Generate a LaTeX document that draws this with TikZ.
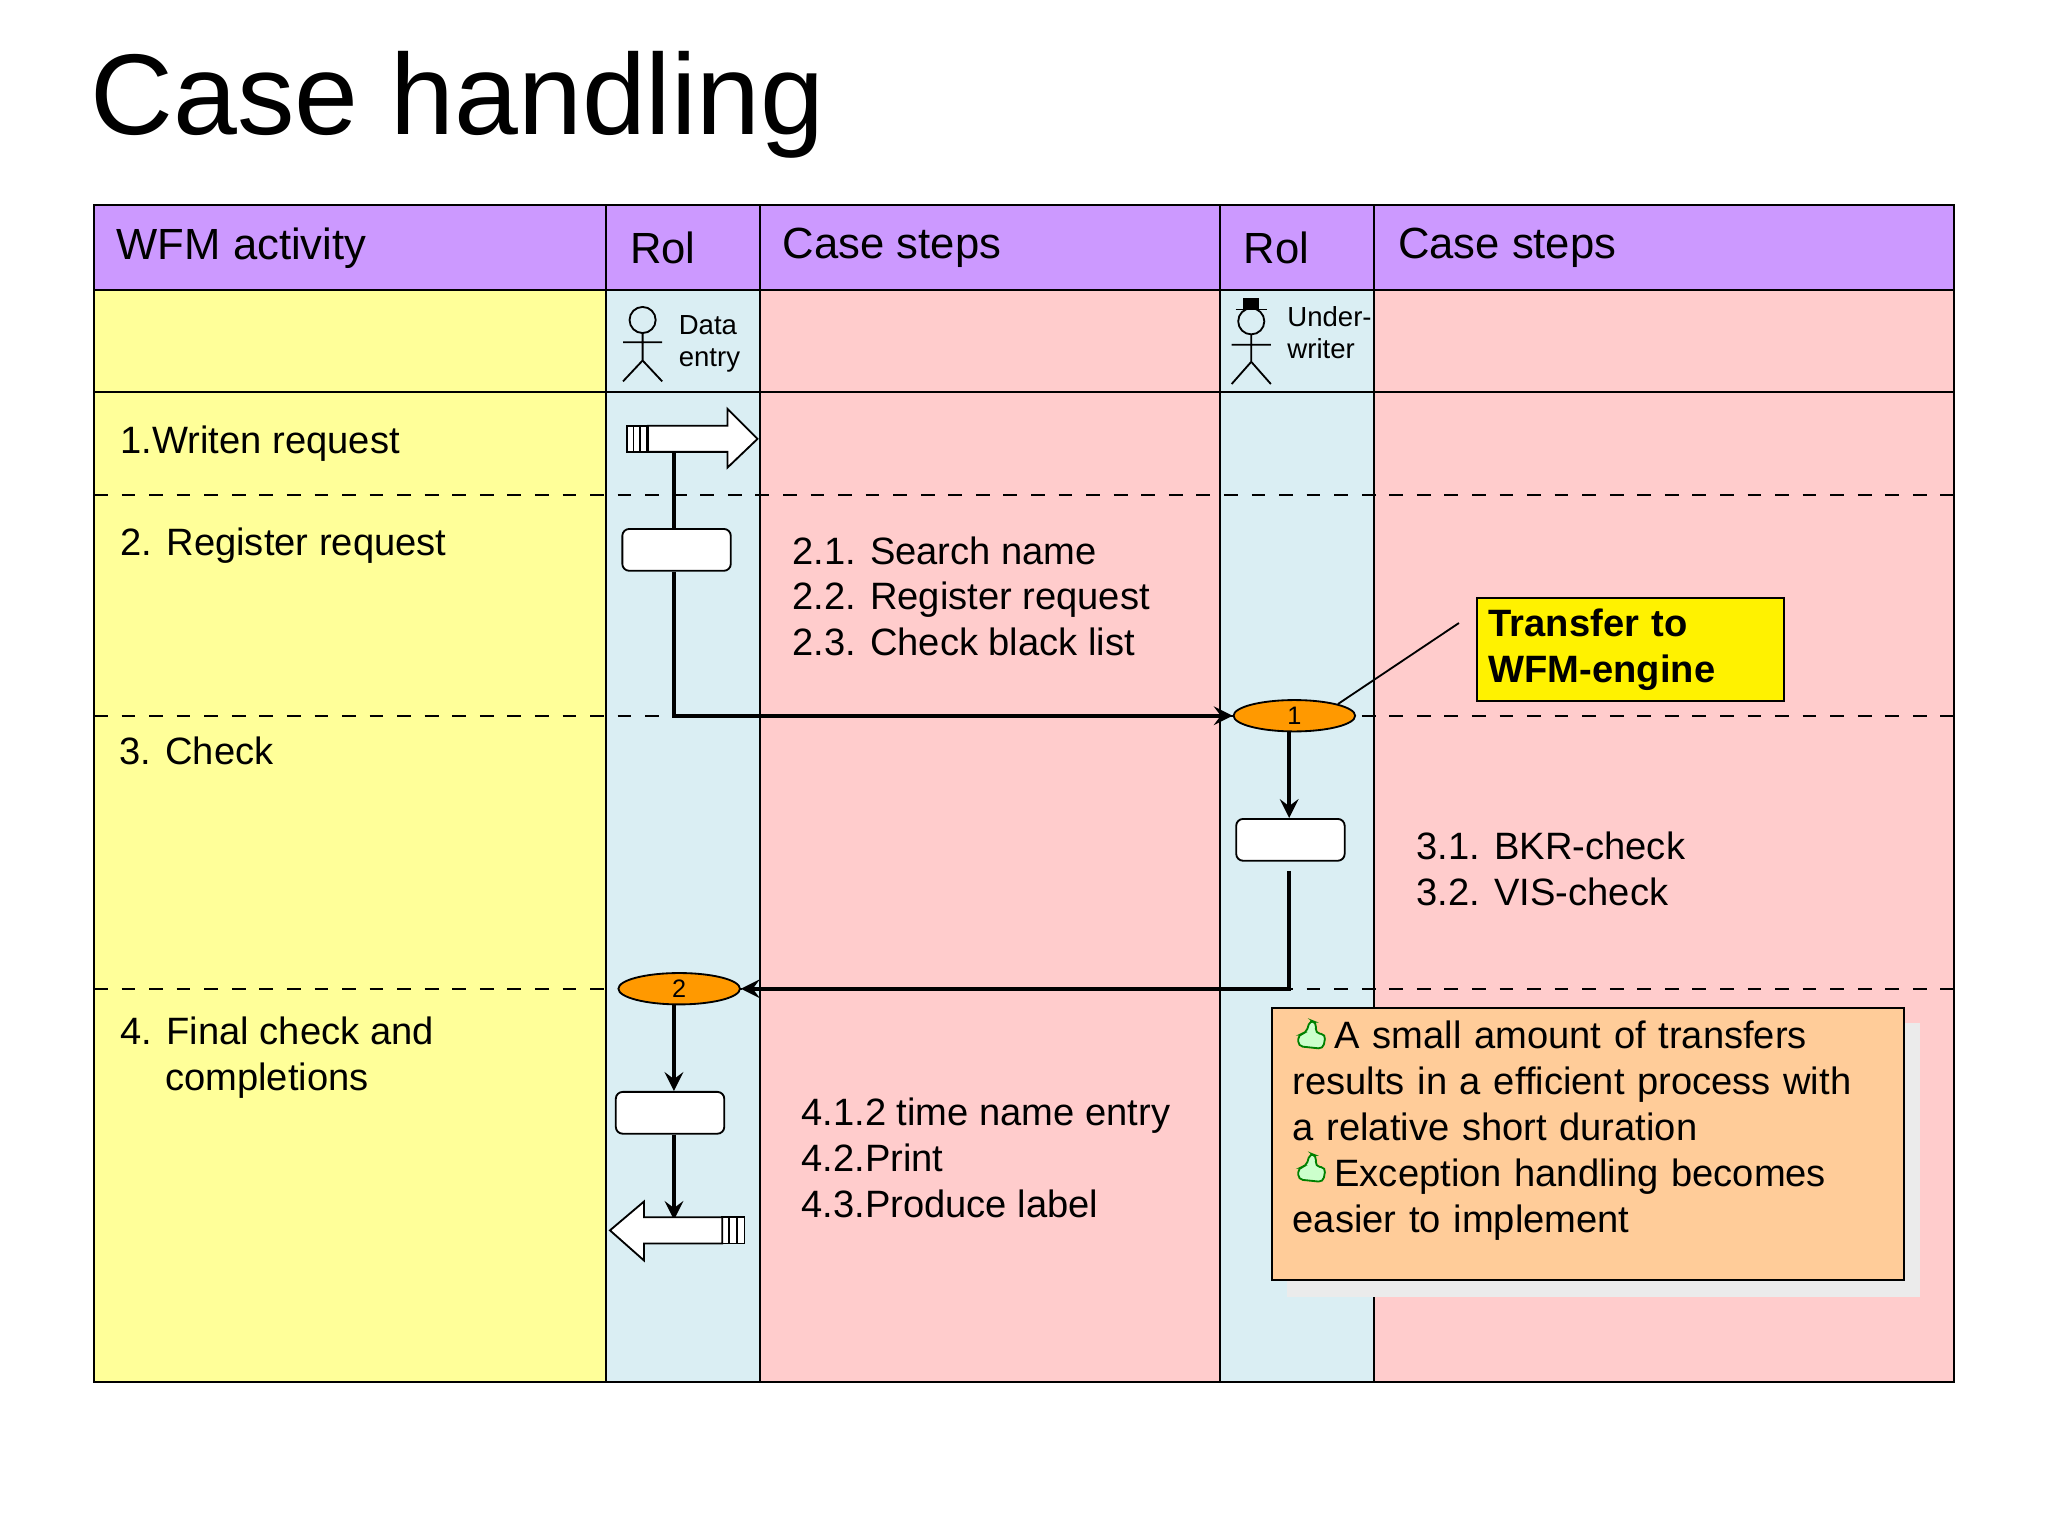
\documentclass[tikz,border=0pt]{standalone}
\usepackage{fontspec}
\setmainfont{Liberation Sans}
\usetikzlibrary{shapes,shapes.geometric,arrows,calc,positioning}
\definecolor{hdr}{HTML}{CC99FF}
\definecolor{yel}{HTML}{FFFF99}
\definecolor{rol}{HTML}{DAEEF3}
\definecolor{stp}{HTML}{FFCCCC}
\definecolor{trg}{HTML}{FF9900}
\definecolor{note}{HTML}{FFCC99}
\tikzset{
hdrtext/.style={anchor=west,font=\fontsize{9.5}{11}\selectfont},
rowtext/.style={anchor=west,font=\fontsize{8.3}{10}\selectfont,align=left},
steptext/.style={anchor=north west,font=\fontsize{8.3}{10}\selectfont,align=left,inner sep=0pt},
task/.style={draw,rounded corners=1.5pt,fill=white,minimum width=0.83cm,minimum height=0.32cm,inner sep=0pt},
trigger/.style={draw,ellipse,fill=trg,minimum width=0.93cm,minimum height=0.24cm,inner sep=0pt,font=\fontsize{5.5}{6}\selectfont},
flow/.style={thick,->,>=stealth},
actor/.style={anchor=west,font=\fontsize{6}{7}\selectfont,align=left,inner sep=0pt}
}
\begin{document}
\begin{tikzpicture}[x=0.01cm,y=-0.01cm]
\useasboundingbox (0,0) rectangle (1568,1176);
\node[anchor=west,font=\fontsize{25}{28}\selectfont] (title) at (57,80) {Case handling};

% columns
\fill[yel] (72,222) rectangle (464,1058);
\fill[rol] (464,222) rectangle (582,1058);
\fill[stp] (582,222) rectangle (934,1058);
\fill[rol] (934,222) rectangle (1052,1058);
\fill[stp] (1052,222) rectangle (1496,1058);
\fill[hdr] (72,157) rectangle (1496,222);
\draw (72,157) rectangle (1496,1058);
\foreach \x in {464,582,934,1052} \draw (\x,157) -- (\x,1058);
\draw (72,222) -- (1496,222);
\draw (72,300) -- (1496,300);
\foreach \y in {379,548,757} \draw[dashed] (72,\y) -- (1496,\y);

\node[hdrtext] (h1) at (77,190) {WFM activity};
\node[hdrtext] (h2) at (470,190) {Rol};
\node[hdrtext] (h3) at (587,190) {Case steps};
\node[hdrtext] (h4) at (940,190) {Rol};
\node[hdrtext] (h5) at (1058,190) {Case steps};

\node[rowtext] (r1) at (80,340) {1.Writen request};
\node[rowtext] (r2) at (80,418) {2. Register request};
\node[rowtext] (r3) at (79,575) {3. Check};
\node[rowtext,anchor=north west] (r4) at (80,766) {4. Final check and\\\hspace{0.34cm}completions};

% actors
\draw (492,245) circle (10);
\draw (492,255) -- (492,276) (477,262) -- (507,262) (477,292) -- (492,276) -- (507,292);
\node[actor] (a1) at (519,263) {Data\\entry};
\draw (958,246) circle (10);
\fill (952,228) rectangle (964,237);
\draw (946,237) -- (970,237);
\draw (958,256) -- (958,277) (943,264) -- (973,264) (943,294) -- (958,277) -- (973,294);
\node[actor] (a2) at (985,255) {Under-\\writer};

% start arrow
\draw[fill=white] (480,326) rectangle (495,346);
\draw (485,326) -- (485,346) (490,326) -- (490,346);
\draw[fill=white] (496,326) -- (557,326) -- (557,313) -- (580,336) -- (557,358) -- (557,346) -- (496,346) -- cycle;
\coordinate (s1) at (516,346);

\node[task] (t1) at (518,421) {};
\node[trigger] (e1) at (991,548) {1};
\node[task] (t2) at (988,643) {};
\node[trigger] (e2) at (520,757) {2};
\node[task] (t3) at (513,852) {};
\coordinate (end) at (516,934);

\draw[thick] (s1) -- (t1.north -| s1);
\draw[flow] (t1.south -| s1) |- (e1.west);
\draw[flow] (e1.south -| 987,0) -- (t2.north -| 987,0);
\draw[flow] ($(t2.south)+(-1,7)$) |- (e2.east);
\draw[flow] (e2.south -| 516,0) -- (t3.north -| 516,0);
\draw[flow] (t3.south -| 516,0) -- (end);

% end arrow
\draw[fill=white] (553,932) rectangle (570,952);
\draw (558,932) -- (558,952) (564,932) -- (564,952);
\draw[fill=white] (553,932) -- (493,932) -- (493,920) -- (467,942) -- (493,965) -- (493,952) -- (553,952) -- cycle;

\node[steptext] (c2) at (606,410) {2.1. Search name\\2.2. Register request\\2.3. Check black list};
\node[steptext] (c3) at (1084,636) {3.1. BKR-check\\3.2. VIS-check};
\node[steptext] (c4) at (613,840) {4.1.2 time name entry\\4.2.Print\\4.3.Produce label};

% callout
\node[draw,fill=yellow,minimum width=2.35cm,minimum height=0.79cm,anchor=north west,inner sep=0pt,
  font=\bfseries\fontsize{8.3}{10}\selectfont,align=left,text width=2.17cm] (tr) at (1130,457) {Transfer to\\WFM-engine};
\draw (1117,477) -- (e1.north east);

% note
\fill[black!8] (985,783) rectangle (1470,993);
\node[draw,fill=note,minimum width=4.84cm,minimum height=2.08cm,anchor=north west] (nt) at (973,771) {};
\node[steptext,text width=4.6cm] (ntx) at (989,781) {\hspace{0.32cm}A small amount of transfers\\results in a efficient process with\\a relative short duration\\\hspace{0.32cm}Exception handling becomes\\easier to implement};
\foreach \y in {795,897}
  \draw[green!50!black,fill=green!20,rounded corners=1pt] (994,\y+6) -- (994,\y-3) -- (1000,\y-4) -- (1003,\y-14) -- (1008,\y-12) -- (1007,\y-4) -- (1015,\y-3) -- (1013,\y+8) -- cycle;
\end{tikzpicture}
\end{document}
